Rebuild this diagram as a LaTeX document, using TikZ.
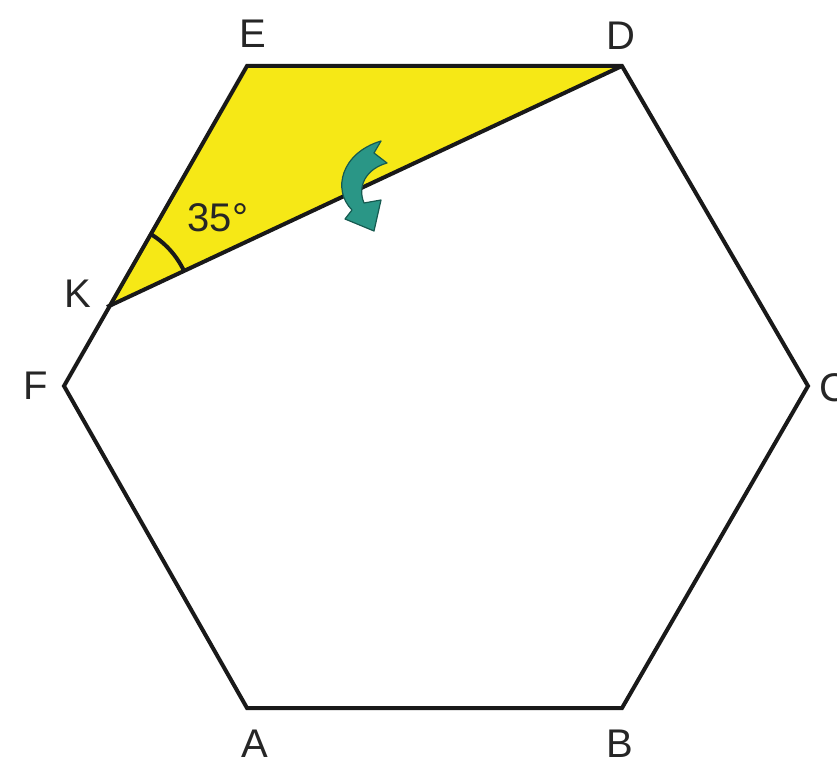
\documentclass[tikz,border=0pt]{standalone}
\usepackage{fontspec}
\setmainfont{Liberation Sans}
\begin{document}
\begin{tikzpicture}[x=1pt,y=-1pt,
  edge/.style={line width=4pt,line join=miter,black!90},
  lbl/.style={font=\fontsize{40}{48}\selectfont,text=black!85,inner sep=0pt}]
\useasboundingbox (0,0) rectangle (837,767);
\definecolor{hexyellow}{RGB}{246,232,22}
\definecolor{tealA}{RGB}{42,150,134}
\definecolor{tealB}{RGB}{22,90,80}
\coordinate (E) at (247,66);
\coordinate (D) at (622,66);
\coordinate (C) at (808,386);
\coordinate (B) at (622,708);
\coordinate (A) at (247,708);
\coordinate (F) at (64,386);
\coordinate (K) at (107,307);
\fill[hexyellow] (K) -- (E) -- (D) -- cycle;
\draw[edge] (A) -- (B) -- (C) -- (D) -- (E) -- (F) -- cycle;
\draw[edge] (K) -- (D);
\draw[line width=4pt,black!90] (K) ++(25.1:85 and -85) arc[start angle=-25.1,end angle=-59.8,radius=85];
% teal curved arrow
\fill[tealA,draw=tealB,line width=1.2pt,line join=round]
  (381,141) -- (374,153) -- (387,163)
  .. controls (366,169) and (357,186) .. (364,203)
  -- (381,200) -- (374,231) -- (345,219) -- (352,210)
  .. controls (332,190) and (341,153) .. (381,141) -- cycle;
\node[lbl] (lE) at (253,34) {E};
\node[lbl] (lD) at (621,36) {D};
\node[lbl,anchor=west] (lC) at (819,388) {C};
\node[lbl] (lB) at (620,744) {B};
\node[lbl] (lA) at (255,744) {A};
\node[lbl] (lF) at (36,386) {F};
\node[lbl] (lK) at (78,294) {K};
\node[lbl] (lang) at (218,218) {35°};
\end{tikzpicture}
\end{document}
